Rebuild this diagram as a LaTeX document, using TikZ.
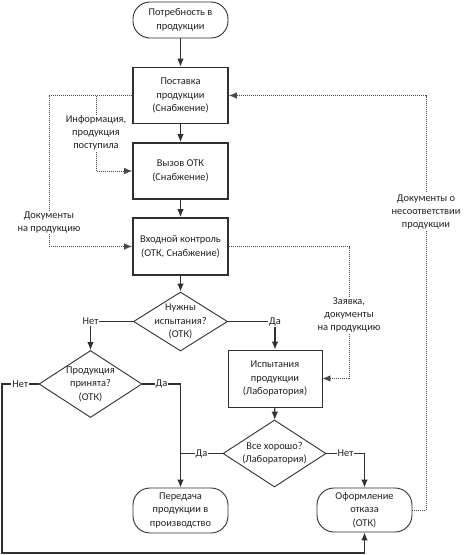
\documentclass[tikz,border=0pt]{standalone}
\usepackage{fontspec}
\setmainfont{Carlito}
\usetikzlibrary{arrows.meta,shapes.geometric}
\definecolor{ln}{HTML}{303030}
\definecolor{tx}{HTML}{222222}
\definecolor{dl}{HTML}{4A4A4A}
\tikzset{
  base/.style={draw=ln, text=tx, align=center, inner sep=0pt, font=\fontsize{10.4}{13.5}\selectfont},
  procbox/.style={base, rectangle, line width=1.7pt, minimum width=95pt, minimum height=56pt},
  labbox/.style={base, rectangle, line width=0.9pt, minimum width=94pt, minimum height=57pt},
  termbox/.style={base, rectangle, rounded corners=17pt, line width=0.9pt, minimum width=95pt, minimum height=44pt},
  dia/.style={draw=ln, diamond, line width=0.9pt, inner sep=0pt},
  dtext/.style={text=tx, align=center, inner sep=0pt, font=\fontsize{10.4}{13.5}\selectfont},
  conn/.style={draw=ln, line width=1.1pt},
  arr/.style={conn, -{Latex[length=8pt,width=6.5pt]}},
  darr/.style={draw=dl, line width=0.8pt, dash pattern=on 0.8pt off 1.2pt, -{Latex[length=8pt,width=6.5pt]}},
  yn/.style={fill=white, text=tx, inner sep=1pt, font=\fontsize{10.4}{12}\selectfont},
  lblw/.style={fill=white, text=tx, align=center, inner sep=1pt, font=\fontsize{10.4}{13}\selectfont},
}
\begin{document}
\begin{tikzpicture}[x=1pt,y=-1pt]
\useasboundingbox (0,0) rectangle (467,555);
\fill[white] (0,0) rectangle (467,555);

\node[termbox, minimum height=36pt] (start) at (180.5,20) {Потребность в\\продукции};
\node[procbox] (p1) at (180.5,95.5) {Поставка\\продукции\\(Снабжение)};
\node[procbox] (p2) at (180.5,171) {Вызов ОТК\\(Снабжение)};
\node[procbox, minimum height=57pt] (p3) at (180.5,246.5) {Входной контроль\\(ОТК, Снабжение)};
\node[dia, minimum width=94pt, minimum height=59pt, label={[dtext]center:{Нужны\\испытания?\\(ОТК)}}] (d1) at (180.5,321.5) {};
\node[dia, minimum width=103pt, minimum height=67pt, label={[dtext]center:{Продукция\\принята?\\(ОТК)}}] (d2) at (90.5,384) {};
\node[labbox] (t1) at (275,378.5) {Испытания\\продукции\\(Лаборатория)};
\node[dia, minimum width=103pt, minimum height=67pt, label={[dtext]center:{Все хорошо?\\(Лаборатория)}}] (d3) at (274.5,453.5) {};
\node[termbox, minimum height=45pt] (e1) at (180.5,510.5) {Передача\\продукции в\\производство};
\node[termbox] (e2) at (364.5,510) {Оформление\\отказа\\(ОТК)};

\coordinate (lb) at (2,553);
\coordinate (dl1) at (49,95.5);
\coordinate (dl2) at (49,246.5);
\coordinate (db1) at (96,95.5);
\coordinate (db2) at (96,171);
\coordinate (dr1) at (349,246.5);
\coordinate (dr2) at (349,378.5);
\coordinate (df1) at (426,510);
\coordinate (df2) at (426,95.5);

\draw[arr] (start) -- (p1);
\draw[arr] (p1) -- (p2);
\draw[arr] (p2) -- (p3);
\draw[arr] (p3) -- (d1);
\draw[arr] (d1.west) -| node[yn]{Нет} (d2.north);
\draw[arr] (d1.east) -| node[yn]{Да} (t1.north);
\draw[arr] (t1) -- (d3);
\draw[arr] (d2.west) -- node[yn]{Нет} (d2.west -| lb) -- (lb) -| (e2.south);
\draw[arr] (d2.east) -- node[yn]{Да} (d2.east -| e1.north) -- (e1.north);
\draw[conn] (d3.west) -- node[yn]{Да} (d3.west -| e1.north);
\draw[arr] (d3.east) -| node[yn, pos=0.25]{Нет} (e2.north);

\draw[darr] (p1.west) -- (dl1) -- node[lblw, pos=0.84]{Документы\\на продукцию} (dl2) -- (p3.west);
\draw[darr] (db1) -- node[lblw]{Информация,\\продукция\\поступила} (db2) -- (p2.west);
\draw[darr] (p3.east) -- (dr1) -- node[lblw, pos=0.52]{Заявка,\\документы\\на продукцию} (dr2) -- (t1.east);
\draw[darr] (e2.east) -- (df1) -- node[lblw, pos=0.72]{Документы о\\несоответствии\\продукции} (df2) -- (p1.east);
\end{tikzpicture}
\end{document}
